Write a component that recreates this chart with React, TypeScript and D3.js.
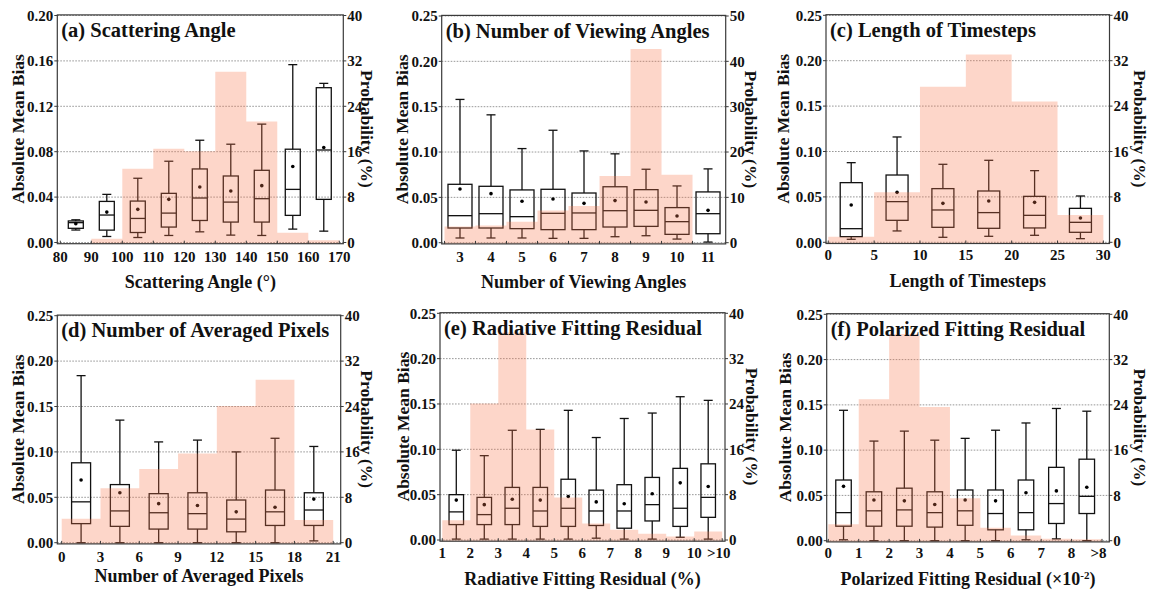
import React from "react";
import * as d3 from "d3";

// ---------- (a) Scattering Angle ----------
const aBinStarts = [80, 90, 100, 110, 120, 130, 140, 150, 160];
const aProb = [0, 0.65, 13.0, 16.5, 16.1, 30.1, 21.3, 1.7, 0.4];
const aBoxX = [85, 95, 105, 115, 125, 135, 145, 155, 165];
// [min, q1, median, q3, max, mean]
const aStats = [
  [0.011, 0.0125, 0.0175, 0.019, 0.020, 0.0166],
  [0.0053, 0.0109, 0.0242, 0.0362, 0.0424, 0.0268],
  [0.0044, 0.0088, 0.0212, 0.0365, 0.0566, 0.0292],
  [0.0062, 0.0136, 0.0259, 0.0433, 0.0716, 0.038],
  [0.0094, 0.0194, 0.0392, 0.0648, 0.0901, 0.0489],
  [0.0065, 0.018, 0.0356, 0.0586, 0.0866, 0.0454],
  [0.0062, 0.018, 0.0386, 0.0636, 0.1043, 0.0501],
  [0.0118, 0.0239, 0.0468, 0.0822, 0.1567, 0.0669],
  [0.010, 0.038, 0.0815, 0.1364, 0.1402, 0.0837],
];
const aXTicks = [80, 90, 100, 110, 120, 130, 140, 150, 160, 170];
const aXLabels = ["80", "90", "100", "110", "120", "130", "140", "150", "160", "170"];

// ---------- (b) Number of Viewing Angles ----------
const bBinStarts = [2.5, 3.5, 4.5, 5.5, 6.5, 7.5, 8.5, 9.5, 10.5];
const bProb = [3.6, 3.8, 4.6, 7.1, 8.1, 14.7, 42.7, 15.0, 0];
const bBoxX = [3, 4, 5, 6, 7, 8, 9, 10, 11];
const bStats = [
  [0.0052, 0.0162, 0.0298, 0.0644, 0.158, 0.0593],
  [0.0052, 0.0162, 0.032, 0.0622, 0.141, 0.0541],
  [0.0052, 0.0155, 0.0287, 0.0582, 0.1038, 0.0457],
  [0.0048, 0.0144, 0.0324, 0.0589, 0.124, 0.0482],
  [0.0048, 0.0144, 0.0328, 0.0548, 0.1012, 0.0434],
  [0.0066, 0.0173, 0.0353, 0.0617, 0.098, 0.0464],
  [0.0077, 0.018, 0.0357, 0.0585, 0.081, 0.0449],
  [0.004, 0.0092, 0.0232, 0.0387, 0.0626, 0.0294],
  [0.0007, 0.0099, 0.032, 0.056, 0.0814, 0.0357],
];
const bXTicks = [3, 4, 5, 6, 7, 8, 9, 10, 11];
const bXLabels = ["3", "4", "5", "6", "7", "8", "9", "10", "11"];

// ---------- (c) Length of Timesteps ----------
const cBinStarts = [0, 5, 10, 15, 20, 25];
const cProb = [1.0, 8.8, 27.4, 33.1, 24.8, 4.8];
const cBoxX = [2.5, 7.5, 12.5, 17.5, 22.5, 27.5];
const cStats = [
  [0.0033, 0.0062, 0.015, 0.0657, 0.0877, 0.0411],
  [0.0125, 0.0242, 0.0448, 0.0741, 0.116, 0.055],
  [0.0055, 0.0165, 0.0356, 0.0591, 0.0859, 0.0429],
  [0.0066, 0.0154, 0.0327, 0.0565, 0.0903, 0.0455],
  [0.0077, 0.0158, 0.0297, 0.0506, 0.0789, 0.044],
  [0.004, 0.011, 0.022, 0.0374, 0.051, 0.0268],
];
const cXTicks = [0, 5, 10, 15, 20, 25, 30];
const cXLabels = ["0", "5", "10", "15", "20", "25", "30"];

// ---------- (d) Number of Averaged Pixels ----------
const dBinStarts = [0, 3, 6, 9, 12, 15, 18];
const dProb = [4.2, 9.6, 13.0, 15.7, 24.1, 28.7, 4.0];
const dBoxX = [1.5, 4.5, 7.5, 10.5, 13.5, 16.5, 19.5];
const dStats = [
  [0.0, 0.021, 0.045, 0.088, 0.184, 0.069],
  [0.0, 0.018, 0.035, 0.064, 0.135, 0.055],
  [0.0, 0.015, 0.033, 0.054, 0.111, 0.043],
  [0.0, 0.015, 0.032, 0.055, 0.113, 0.041],
  [0.0, 0.012, 0.026, 0.047, 0.100, 0.034],
  [0.0, 0.019, 0.034, 0.058, 0.115, 0.039],
  [0.002, 0.019, 0.036, 0.055, 0.106, 0.048],
];
const dXTicks = [0, 3, 6, 9, 12, 15, 18, 21];
const dXLabels = ["0", "3", "6", "9", "12", "15", "18", "21"];

// ---------- (e) Radiative Fitting Residual ----------
const eBinStarts = [1, 2, 3, 4, 5, 6, 7, 8, 9, 10];
const eProb = [3.5, 24.1, 36.6, 19.5, 7.5, 2.9, 1.8, 1.1, 0.6, 1.5];
const eBoxX = [1.5, 2.5, 3.5, 4.5, 5.5, 6.5, 7.5, 8.5, 9.5, 10.5];
const eStats = [
  [0.001, 0.017, 0.031, 0.050, 0.099, 0.044],
  [0.001, 0.017, 0.028, 0.047, 0.093, 0.039],
  [0.001, 0.017, 0.035, 0.058, 0.121, 0.045],
  [0.001, 0.015, 0.032, 0.058, 0.122, 0.044],
  [0.001, 0.015, 0.035, 0.067, 0.143, 0.048],
  [0.002, 0.016, 0.032, 0.055, 0.113, 0.042],
  [0.001, 0.013, 0.032, 0.061, 0.134, 0.040],
  [0.001, 0.021, 0.039, 0.069, 0.140, 0.051],
  [0.003, 0.015, 0.035, 0.079, 0.158, 0.063],
  [0.001, 0.025, 0.047, 0.084, 0.154, 0.059],
];
const eXTicks = [1, 2, 3, 4, 5, 6, 7, 8, 9, 10, 11];
const eXLabels = ["1", "2", "3", "4", "5", "6", "7", "8", "9", "10", ">10"];

// ---------- (f) Polarized Fitting Residual ----------
const fBinStarts = [0, 1, 2, 3, 4, 5, 6, 7, 8];
const fProb = [2.9, 25.0, 36.5, 23.6, 7.5, 2.3, 0.9, 0.35, 0.25];
const fBoxX = [0.5, 1.5, 2.5, 3.5, 4.5, 5.5, 6.5, 7.5, 8.5];
const fStats = [
  [0.001, 0.016, 0.031, 0.067, 0.144, 0.060],
  [0.0, 0.016, 0.033, 0.054, 0.110, 0.045],
  [0.0, 0.016, 0.034, 0.058, 0.121, 0.044],
  [0.0, 0.015, 0.031, 0.054, 0.111, 0.040],
  [0.0, 0.017, 0.033, 0.056, 0.113, 0.045],
  [0.0, 0.012, 0.030, 0.056, 0.122, 0.044],
  [0.001, 0.012, 0.031, 0.067, 0.130, 0.053],
  [0.002, 0.019, 0.041, 0.081, 0.146, 0.055],
  [0.0, 0.030, 0.049, 0.090, 0.143, 0.059],
];
const fXTicks = [0, 1, 2, 3, 4, 5, 6, 7, 8, 9];
const fXLabels = ["0", "1", "2", "3", "4", "5", "6", "7", "8", ">8"];

const FONT = "'Liberation Serif', 'Times New Roman', Times, serif";
const BAR_FILL = "rgb(248,118,76)";

type PanelCfg = {
  title: string;
  xTitle: React.ReactNode;
  binStarts: number[];
  binW: number;
  prob: number[];
  boxX: number[];
  stats: number[][];
  xTicks: number[];
  xLabels: string[];
  xTickMarks: number[];
  xDomain: [number, number];
  yMax: number;
  yStep: number;
  pMax: number;
  pStep: number;
  left: number;
  right: number;
  top: number;
  zeroY: number;
  boxW: number;
  tickY: number;
  xTitleY: number;
  yLabelX: number;
  pLabelX: number;
};

const panels: PanelCfg[] = [
  {
    title: "(a) Scattering Angle",
    xTitle: "Scattering Angle (°)",
    binStarts: aBinStarts, binW: 10, prob: aProb, boxX: aBoxX, stats: aStats,
    xTicks: aXTicks, xLabels: aXLabels, xTickMarks: aXTicks,
    xDomain: [79.03, 171.3], yMax: 0.2, yStep: 0.04, pMax: 40, pStep: 8,
    left: 57.3, right: 343.3, top: 15.5, zeroY: 242.5, boxW: 15,
    tickY: 262, xTitleY: 288, yLabelX: 18, pLabelX: 367,
  },
  {
    title: "(b) Number of Viewing Angles",
    xTitle: "Number of Viewing Angles",
    binStarts: bBinStarts, binW: 1, prob: bProb, boxX: bBoxX, stats: bStats,
    xTicks: bXTicks, xLabels: bXLabels, xTickMarks: bBinStarts,
    xDomain: [2.41, 11.57], yMax: 0.25, yStep: 0.05, pMax: 50, pStep: 10,
    left: 441.7, right: 725.7, top: 16, zeroY: 242.7, boxW: 24,
    tickY: 262, xTitleY: 288, yLabelX: 402, pLabelX: 751,
  },
  {
    title: "(c) Length of Timesteps",
    xTitle: "Length of Timesteps",
    binStarts: cBinStarts, binW: 5, prob: cProb, boxX: cBoxX, stats: cStats,
    xTicks: cXTicks, xLabels: cXLabels, xTickMarks: cXTicks,
    xDomain: [-0.25, 30.67], yMax: 0.25, yStep: 0.05, pMax: 40, pStep: 8,
    left: 826, right: 1109.5, top: 15.3, zeroY: 242.3, boxW: 22,
    tickY: 260, xTitleY: 287, yLabelX: 783, pLabelX: 1140,
  },
  {
    title: "(d) Number of Averaged Pixels",
    xTitle: "Number of Averaged Pixels",
    binStarts: dBinStarts, binW: 3, prob: dProb, boxX: dBoxX, stats: dStats,
    xTicks: dXTicks, xLabels: dXLabels, xTickMarks: dXTicks,
    xDomain: [-0.34, 21.58], yMax: 0.25, yStep: 0.05, pMax: 40, pStep: 8,
    left: 57.3, right: 340.7, top: 315.7, zeroY: 542.7, boxW: 19,
    tickY: 562, xTitleY: 582, yLabelX: 18, pLabelX: 367,
  },
  {
    title: "(e) Radiative Fitting Residual",
    xTitle: "Radiative Fitting Residual (%)",
    binStarts: eBinStarts, binW: 1, prob: eProb, boxX: eBoxX, stats: eStats,
    xTicks: eXTicks, xLabels: eXLabels, xTickMarks: eXTicks,
    xDomain: [0.918, 11.1], yMax: 0.25, yStep: 0.05, pMax: 40, pStep: 8,
    left: 440, right: 725, top: 313.3, zeroY: 540, boxW: 14.5,
    tickY: 558, xTitleY: 584.5, yLabelX: 403, pLabelX: 752,
  },
  {
    title: "(f) Polarized Fitting Residual",
    xTitle: (
      <>
        Polarized Fitting Residual (×10
        <tspan dy={-6} fontSize={11}>-2</tspan>
        <tspan dy={6}>)</tspan>
      </>
    ),
    binStarts: fBinStarts, binW: 1, prob: fProb, boxX: fBoxX, stats: fStats,
    xTicks: fXTicks, xLabels: fXLabels, xTickMarks: fXTicks,
    xDomain: [-0.053, 9.24], yMax: 0.25, yStep: 0.05, pMax: 40, pStep: 8,
    left: 826.7, right: 1109.3, top: 314.3, zeroY: 540.7, boxW: 15.5,
    tickY: 558, xTitleY: 584.5, yLabelX: 785, pLabelX: 1140,
  },
];

function Panel({ p }: { p: PanelCfg }) {
  const x = d3.scaleLinear().domain(p.xDomain).range([p.left, p.right]);
  const y = d3.scaleLinear().domain([0, p.yMax]).range([p.zeroY, p.top]);
  const yr = d3.scaleLinear().domain([0, p.pMax]).range([p.zeroY, p.top]);
  const yTicks = d3.range(0, p.yMax + 1e-9, p.yStep);
  const pTicks = d3.range(0, p.pMax + 1e-9, p.pStep);
  const bottom = p.zeroY + 1.2;
  const fmt = d3.format(".2f");
  const cap = 9;

  const barPath = d3.path();
  p.binStarts.forEach((s, i) => {
    if (p.prob[i] <= 0) return;
    const x0 = x(s);
    const x1 = x(s + p.binW);
    const y0 = yr(p.prob[i]);
    barPath.moveTo(x0, bottom);
    barPath.lineTo(x0, y0);
    barPath.lineTo(x1, y0);
    barPath.lineTo(x1, bottom);
    barPath.closePath();
  });

  const midY = (p.top + p.zeroY) / 2;
  const boxStroke = "#111";

  return (
    <g fontFamily={FONT} fontWeight="bold">
      {yTicks.map((t, i) => (
        <line key={"g" + i} x1={p.left} x2={p.right} y1={y(t)} y2={y(t)}
          stroke="#8c8c8c" strokeWidth={0.9} strokeDasharray="1.6,1.4" />
      ))}
      {p.boxX.map((c, i) => {
        const [mn, q1, md, q3, mx, mean] = p.stats[i];
        const cx = x(c);
        const w = p.boxW;
        return (
          <g key={"b" + i} stroke={boxStroke} strokeWidth={1.3} fill="none">
            <line x1={cx} x2={cx} y1={y(q3)} y2={y(mx)} />
            <line x1={cx} x2={cx} y1={y(q1)} y2={y(mn)} />
            <line x1={cx - cap / 2} x2={cx + cap / 2} y1={y(mx)} y2={y(mx)} />
            <line x1={cx - cap / 2} x2={cx + cap / 2} y1={y(mn)} y2={y(mn)} />
            <rect x={cx - w / 2} y={y(q3)} width={w} height={y(q1) - y(q3)} />
            <line x1={cx - w / 2} x2={cx + w / 2} y1={y(md)} y2={y(md)} />
            <circle cx={cx} cy={y(mean)} r={1.8} fill="#000" stroke="none" />
          </g>
        );
      })}
      <path d={barPath.toString()} fill={BAR_FILL} fillOpacity={0.3} stroke="none" />
      <rect x={p.left} y={p.top - 0.6} width={p.right - p.left} height={bottom - p.top + 0.6}
        fill="none" stroke="#3a3a3a" strokeWidth={1.2} />
      {yTicks.map((t, i) => (
        <g key={"yl" + i}>
          <line x1={p.left - 3} x2={p.left} y1={y(t)} y2={y(t)} stroke="#3a3a3a" strokeWidth={1} />
          <text x={p.left - 4} y={y(t)} dy="0.35em" textAnchor="end" fontSize={15} fill="#111">
            {fmt(t)}
          </text>
        </g>
      ))}
      {pTicks.map((t, i) => (
        <g key={"pl" + i}>
          <line x1={p.right} x2={p.right + 3} y1={yr(t)} y2={yr(t)} stroke="#3a3a3a" strokeWidth={1} />
          <text x={p.right + 4} y={yr(t)} dy="0.35em" textAnchor="start" fontSize={15} fill="#111">
            {t}
          </text>
        </g>
      ))}
      {p.xTickMarks.map((t, i) => (
        <line key={"xm" + i} x1={x(t)} x2={x(t)} y1={bottom} y2={bottom - 3}
          stroke="#3a3a3a" strokeWidth={1} />
      ))}
      {p.xTicks.map((t, i) => (
        <text key={"xl" + i} x={x(t) - (p.xLabels[i].startsWith(">") ? 3.5 : 0)} y={p.tickY}
          textAnchor="middle" fontSize={15} fill="#111">
          {p.xLabels[i]}
        </text>
      ))}
      <text x={p.left + 4} y={p.top + 21.5} fontSize={20.5} fill="#111">{p.title}</text>
      <text x={(p.left + p.right) / 2} y={p.xTitleY} textAnchor="middle" fontSize={18} fill="#111">
        {p.xTitle}
      </text>
      <text transform={`translate(${p.yLabelX},${midY}) rotate(-90)`} textAnchor="middle"
        dy="0.35em" fontSize={17.5} fill="#111">
        Absolute Mean Bias
      </text>
      <text transform={`translate(${p.pLabelX},${midY}) rotate(90)`} textAnchor="middle"
        dy="0.35em" fontSize={17.5} fill="#111">
        Probability (%)
      </text>
    </g>
  );
}

export default function App() {
  return (
    <svg width={1149} height={589} viewBox="0 0 1149 589"
      style={{ position: "absolute", left: 0, top: 0, background: "#fff" }}>
      <rect x={0} y={0} width={1149} height={589} fill="#fff" />
      {panels.map((p, i) => (
        <Panel key={i} p={p} />
      ))}
    </svg>
  );
}
